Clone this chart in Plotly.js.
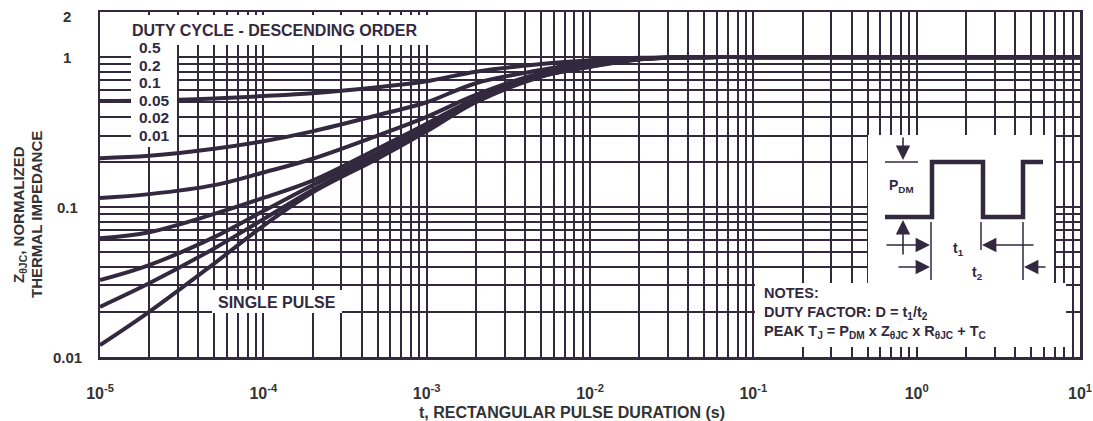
<!DOCTYPE html>
<html>
<head>
<meta charset="utf-8">
<script src="https://cdn.plot.ly/plotly-3.0.1.min.js"></script>
<style>html,body{margin:0;padding:0;background:#fff;}#chart{width:1093px;height:421px;}</style>
</head>
<body>
<div id="chart"></div>
<script>
// ---- data ----
const pulseDuration = [1e-5, 2e-5, 5e-5, 1e-4, 2e-4, 5e-4, 1e-3, 2e-3, 5e-3, 1e-2, 2e-2, 5e-2, 1e-1, 1, 10];
const duty05  = [0.509, 0.513, 0.530, 0.550, 0.575, 0.630, 0.690, 0.800, 0.900, 0.955, 0.990, 1.0, 1.0, 1.0, 1.0];
const duty02  = [0.212, 0.220, 0.245, 0.275, 0.320, 0.410, 0.500, 0.670, 0.820, 0.920, 0.980, 1.0, 1.0, 1.0, 1.0];
const duty01  = [0.115, 0.122, 0.140, 0.170, 0.210, 0.300, 0.400, 0.560, 0.780, 0.890, 0.975, 1.0, 1.0, 1.0, 1.0];
const duty005 = [0.062, 0.068, 0.090, 0.115, 0.150, 0.245, 0.360, 0.530, 0.760, 0.880, 0.970, 1.0, 1.0, 1.0, 1.0];
const duty002 = [0.0326, 0.041, 0.063, 0.094, 0.140, 0.230, 0.340, 0.520, 0.750, 0.870, 0.970, 1.0, 1.0, 1.0, 1.0];
const duty001 = [0.0216, 0.031, 0.053, 0.083, 0.130, 0.220, 0.330, 0.510, 0.745, 0.865, 0.970, 1.0, 1.0, 1.0, 1.0];
const singlePulse = [0.012, 0.020, 0.042, 0.075, 0.125, 0.210, 0.320, 0.500, 0.740, 0.860, 0.965, 1.0, 1.0, 1.0, 1.0];

const dutyLabels = ['0.5', '0.2', '0.1', '0.05', '0.02', '0.01'];
const xDecades = [1e-5, 1e-4, 1e-3, 1e-2, 1e-1, 1, 10];
const xDecadeLabels = ['10<sup>-5</sup>', '10<sup>-4</sup>', '10<sup>-3</sup>', '10<sup>-2</sup>', '10<sup>-1</sup>', '10<sup>0</sup>', '10<sup>1</sup>'];
const yLabelVals = [0.01, 0.1, 1, 2];
const yLabelText = ['0.01', '0.1', '1', '2'];

// ---- styling ----
const INK = '#33293f';
const GREY = '#333333';
const FONT = 'Liberation Sans, Arial, sans-serif';

// minor grid positions (2..9 per decade)
function logMinor(lo, hi) {
  const v = [];
  for (let e = lo; e < hi; e++) for (let m = 2; m <= 9; m++) v.push(+(m * Math.pow(10, e)).toPrecision(3));
  return v;
}
const xMinor = logMinor(-5, 1);
const yMinor = logMinor(-2, 0);

const series = [duty05, duty02, duty01, duty005, duty002, duty001, singlePulse];
const names = ['D=0.5', 'D=0.2', 'D=0.1', 'D=0.05', 'D=0.02', 'D=0.01', 'Single pulse'];
const traces = series.map((s, i) => ({
  x: pulseDuration, y: s, type: 'scatter', mode: 'lines', name: names[i],
  line: {color: INK, width: 4, shape: 'spline', smoothing: 1}, hoverinfo: 'skip'
}));

// pixel -> paper helpers (plot area 100..1080 x, 12..357 y)
const L = 100, R = 1080, T = 12, B = 357;
const px = x => (x - L) / (R - L);
const py = y => (B - y) / (B - T);

function rect(x0, y0, x1, y1) {
  return {type: 'rect', xref: 'paper', yref: 'paper', x0: px(x0), x1: px(x1), y0: py(y1), y1: py(y0),
          fillcolor: '#ffffff', line: {width: 0}, layer: 'above'};
}
function seg(x0, y0, x1, y1, w) {
  return {type: 'line', xref: 'paper', yref: 'paper', x0: px(x0), x1: px(x1), y0: py(y0), y1: py(y1),
          line: {color: INK, width: w}, layer: 'above'};
}
const pulsePath = [[885,217],[932,217],[932,162],[983,162],[983,217],[1023,217],[1023,162],[1043,162]]
  .map((p, i) => (i ? 'L' : 'M') + px(p[0]) + ',' + py(p[1])).join(' ');

const shapes = [
  rect(126, 15, 430, 45),
  rect(131, 45, 177, 147),
  rect(212, 290, 342, 313),
  rect(868, 135, 1054, 283),
  rect(755, 283, 1066, 347),
  {type: 'path', xref: 'paper', yref: 'paper', path: pulsePath, line: {color: INK, width: 4.5}, layer: 'above'},
  seg(885, 162, 918, 162, 1.5),
  seg(931, 222, 931, 280, 1.5),
  seg(981, 222, 981, 250, 1.5),
  seg(1023, 222, 1023, 280, 1.5)
];

function arrow(x, y, ax, ay) {
  return {xref: 'paper', yref: 'paper', x: px(x), y: py(y), ax: ax, ay: ay, text: '', showarrow: true,
          arrowhead: 2, arrowsize: 1.8, arrowwidth: 1.6, arrowcolor: INK};
}
function label(text, x, y, size, xanchor, color, extra) {
  return Object.assign({xref: 'paper', yref: 'paper', x: px(x), y: py(y), text: text, showarrow: false,
          xanchor: xanchor, yanchor: 'middle', align: xanchor === 'left' ? 'left' : 'center',
          font: {family: FONT, size: size, color: color || INK, weight: 'bold'}}, extra || {});
}

const notesText = 'NOTES:<br>DUTY FACTOR: D = t<sub>1</sub>/t<sub>2</sub><br>' +
  'PEAK T<sub>J</sub> = P<sub>DM</sub> x Z<sub>θJC</sub> x R<sub>θJC</sub> + T<sub>C</sub>';

const annotations = [
  label('DUTY CYCLE - DESCENDING ORDER', 275, 31, 16, 'center'),
  ...dutyLabels.map((t, i) => label(t, 137, 47.5 + i * 17.6, 15.5, 'left')),
  label('SINGLE PULSE', 277, 302, 16, 'center'),
  label('P<sub>DM</sub>', 887, 186, 14, 'left'),
  label('t<sub>1</sub>', 958, 249, 14, 'center'),
  label('t<sub>2</sub>', 977, 273, 14, 'center'),
  label(notesText, 762, 313, 14.5, 'left'),
  arrow(903, 160, 0, -24),
  arrow(903, 220, 0, 36),
  arrow(930, 245, -45, 0),
  arrow(982, 245, 53, 0),
  arrow(930, 267, -33, 0),
  arrow(1024, 267, 23, 0),
  label('Z<sub>θJC</sub>, NORMALIZED', 19, 215, 15, 'center', GREY, {textangle: -90}),
  label('THERMAL IMPEDANCE', 36, 215, 15, 'center', GREY, {textangle: -90}),
  label('t, RECTANGULAR PULSE DURATION (s)', 572, 412, 16, 'center', GREY),
  // y-axis decade labels (centred, as in the reference)
  ...yLabelVals.map((v, i) => ({xref: 'paper', yref: 'y', x: px(67), y: Math.log10(v), text: yLabelText[i],
      showarrow: false, xanchor: 'center', yanchor: 'middle', yshift: v === 2 ? -4 : 0,
      font: {family: FONT, size: 15, color: GREY, weight: 'bold'}}))
];

const axisCommon = {
  type: 'log', showgrid: true, gridcolor: INK, gridwidth: 2, showline: true, linecolor: INK, linewidth: 2.5,
  mirror: true, ticks: '', zeroline: false, fixedrange: true,
  tickfont: {family: FONT, size: 16, color: GREY, weight: 'bold'}
};

const layout = {
  width: 1093, height: 421,
  margin: {l: L, r: 1093 - R, t: T, b: 421 - B},
  paper_bgcolor: '#ffffff', plot_bgcolor: '#ffffff',
  showlegend: false,
  xaxis: Object.assign({}, axisCommon, {range: [-5, 1], tickmode: 'array', tickvals: xDecades, ticktext: xDecadeLabels,
      ticklabelstandoff: 20,
      minor: {tickmode: 'array', tickvals: xMinor, showgrid: true, gridcolor: INK, gridwidth: 2, ticks: ''}}),
  yaxis: Object.assign({}, axisCommon, {range: [-2, Math.log10(2)], tickmode: 'array', tickvals: yLabelVals, showticklabels: false,
      minor: {tickmode: 'array', tickvals: yMinor, showgrid: true, gridcolor: INK, gridwidth: 2, ticks: ''}}),
  shapes: shapes,
  annotations: annotations
};

Plotly.newPlot('chart', traces, layout, {staticPlot: true, displayModeBar: false});
</script>
</body>
</html>
